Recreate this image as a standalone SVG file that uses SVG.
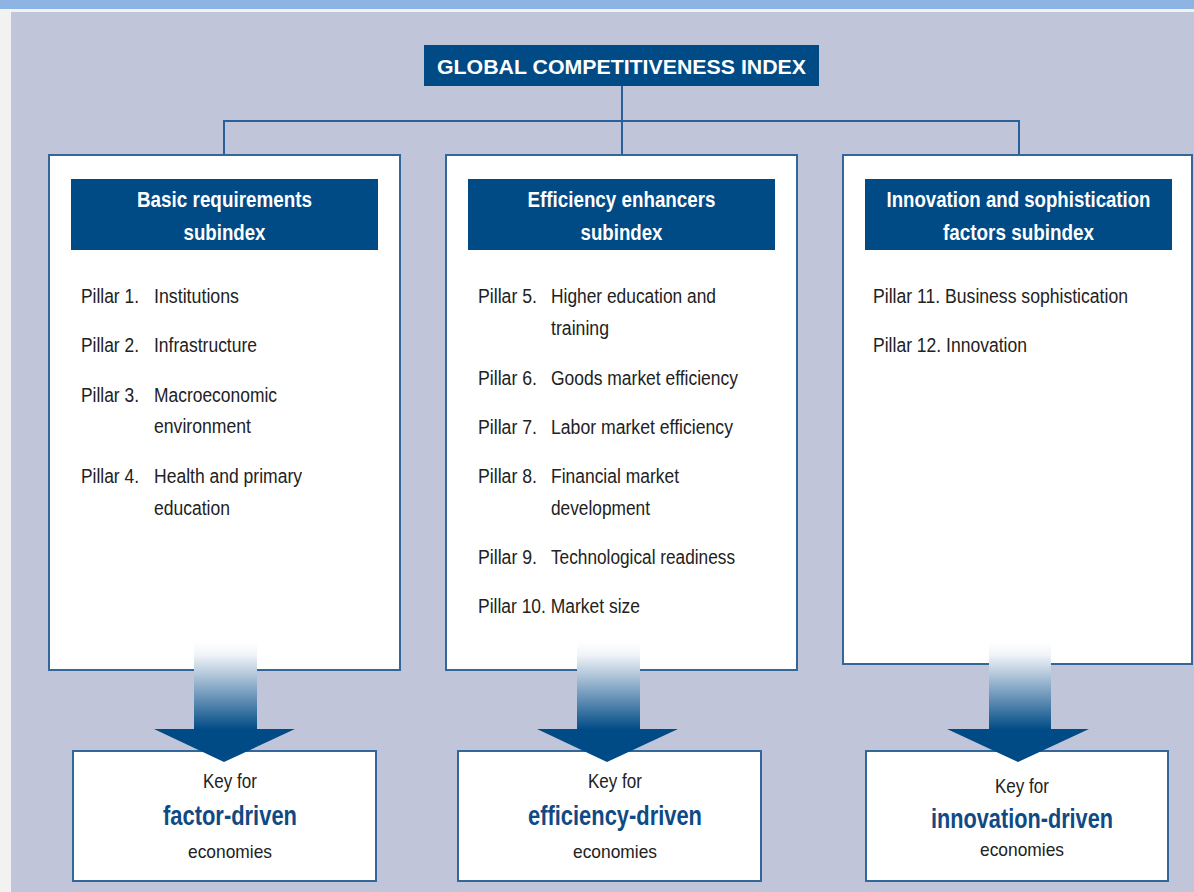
<svg xmlns="http://www.w3.org/2000/svg" width="1194" height="892" viewBox="0 0 1194 892">
  <defs>
    <style>
      text { font-family: "Liberation Sans", Arial, sans-serif; }
      .col { fill: #ffffff; stroke: #336699; stroke-width: 2; }
      .hdr { fill: #004a86; }
      .hdrtxt { font-size: 22.5px; font-weight: bold; fill: #ffffff; text-anchor: middle; }
      .pil { font-size: 20px; fill: #222222; }
      .key { fill: #ffffff; stroke: #336699; stroke-width: 2; }
      .k1 { font-size: 20px; fill: #222222; text-anchor: middle; }
      .k2 { font-size: 27px; font-weight: bold; fill: #0f4a84; text-anchor: middle; }
      .k3 { font-size: 19px; fill: #222222; text-anchor: middle; }
      .link { fill: none; stroke: #2a5f97; stroke-width: 2; }
      .head { fill: #004a86; }
    </style>
    <linearGradient id="shaftFade" x1="0" y1="0" x2="0" y2="1">
      <stop offset="0" stop-color="#ffffff"/>
      <stop offset="0.15" stop-color="#f0f3f8"/>
      <stop offset="1" stop-color="#004a86"/>
    </linearGradient>
  </defs>

  <!-- page frame -->
  <rect x="0" y="0" width="1194" height="892" fill="#f2f2f2"/>
  <rect x="0" y="0" width="1194" height="9" fill="#8eb4e3"/>
  <rect x="11" y="12" width="1183" height="880" fill="#c0c5d9"/>

  <!-- connectors -->
  <g id="connectors">
    <path class="link" d="M622 86 V155"/>
    <path class="link" d="M224 155 V121 H1019 V155"/>
  </g>

  <!-- root -->
  <g id="gci">
    <rect x="424" y="45" width="395" height="41" fill="#004a86"/>
    <text x="621.5" y="73.5" font-size="21" font-weight="bold" fill="#ffffff" text-anchor="middle" textLength="369" lengthAdjust="spacingAndGlyphs">GLOBAL COMPETITIVENESS INDEX</text>
  </g>

  <!-- column 1 -->
  <g id="basic">
    <rect class="col" x="49" y="155" width="351" height="515"/>
    <rect class="hdr" x="71" y="179" width="307" height="71"/>
    <text class="hdrtxt" x="224.5" y="207" textLength="175" lengthAdjust="spacingAndGlyphs">Basic requirements</text>
    <text class="hdrtxt" x="224.5" y="240" textLength="82" lengthAdjust="spacingAndGlyphs">subindex</text>
    <g class="pil">
      <text x="81" y="303" textLength="58" lengthAdjust="spacingAndGlyphs">Pillar 1.</text>
      <text x="154" y="303" textLength="85" lengthAdjust="spacingAndGlyphs">Institutions</text>
      <text x="81" y="352" textLength="58" lengthAdjust="spacingAndGlyphs">Pillar 2.</text>
      <text x="154" y="352" textLength="103" lengthAdjust="spacingAndGlyphs">Infrastructure</text>
      <text x="81" y="402" textLength="58" lengthAdjust="spacingAndGlyphs">Pillar 3.</text>
      <text x="154" y="402" textLength="123" lengthAdjust="spacingAndGlyphs">Macroeconomic</text>
      <text x="154" y="433" textLength="97" lengthAdjust="spacingAndGlyphs">environment</text>
      <text x="81" y="483" textLength="58" lengthAdjust="spacingAndGlyphs">Pillar 4.</text>
      <text x="154" y="483" textLength="148" lengthAdjust="spacingAndGlyphs">Health and primary</text>
      <text x="154" y="515" textLength="76" lengthAdjust="spacingAndGlyphs">education</text>
    </g>
  </g>

  <!-- column 2 -->
  <g id="efficiency">
    <rect class="col" x="446" y="155" width="351" height="515"/>
    <rect class="hdr" x="468" y="179" width="307" height="71"/>
    <text class="hdrtxt" x="621.5" y="207" textLength="188" lengthAdjust="spacingAndGlyphs">Efficiency enhancers</text>
    <text class="hdrtxt" x="621.5" y="240" textLength="82" lengthAdjust="spacingAndGlyphs">subindex</text>
    <g class="pil">
      <text x="478" y="303" textLength="59" lengthAdjust="spacingAndGlyphs">Pillar 5.</text>
      <text x="551" y="303" textLength="165" lengthAdjust="spacingAndGlyphs">Higher education and</text>
      <text x="551" y="335" textLength="58" lengthAdjust="spacingAndGlyphs">training</text>
      <text x="478" y="385" textLength="59" lengthAdjust="spacingAndGlyphs">Pillar 6.</text>
      <text x="551" y="385" textLength="187" lengthAdjust="spacingAndGlyphs">Goods market efficiency</text>
      <text x="478" y="434" textLength="59" lengthAdjust="spacingAndGlyphs">Pillar 7.</text>
      <text x="551" y="434" textLength="182" lengthAdjust="spacingAndGlyphs">Labor market efficiency</text>
      <text x="478" y="483" textLength="59" lengthAdjust="spacingAndGlyphs">Pillar 8.</text>
      <text x="551" y="483" textLength="128" lengthAdjust="spacingAndGlyphs">Financial market</text>
      <text x="551" y="515" textLength="99" lengthAdjust="spacingAndGlyphs">development</text>
      <text x="478" y="564" textLength="59" lengthAdjust="spacingAndGlyphs">Pillar 9.</text>
      <text x="551" y="564" textLength="184" lengthAdjust="spacingAndGlyphs">Technological readiness</text>
      <text x="478" y="613" textLength="162" lengthAdjust="spacingAndGlyphs">Pillar 10. Market size</text>
    </g>
  </g>

  <!-- column 3 -->
  <g id="innovation">
    <rect class="col" x="843" y="155" width="349" height="509"/>
    <rect class="hdr" x="865" y="179" width="307" height="71"/>
    <text class="hdrtxt" transform="translate(1018.5 207) scale(0.825 1)" x="0" y="0" textLength="320" lengthAdjust="spacingAndGlyphs">Innovation and sophistication</text>
    <text class="hdrtxt" x="1018.5" y="240" textLength="151" lengthAdjust="spacingAndGlyphs">factors subindex</text>
    <g class="pil">
      <text x="873" y="303" textLength="255" lengthAdjust="spacingAndGlyphs">Pillar 11. Business sophistication</text>
      <text x="873" y="352" textLength="154" lengthAdjust="spacingAndGlyphs">Pillar 12. Innovation</text>
    </g>
  </g>

  <!-- economy keys -->
  <g id="key-factor">
    <rect class="key" x="73" y="751" width="303" height="130"/>
    <text class="k1" x="230" y="788" textLength="54" lengthAdjust="spacingAndGlyphs">Key for</text>
    <text class="k2" x="230" y="825" textLength="134" lengthAdjust="spacingAndGlyphs">factor-driven</text>
    <text class="k3" x="230" y="858" textLength="84" lengthAdjust="spacingAndGlyphs">economies</text>
  </g>
  <g id="key-efficiency">
    <rect class="key" x="458" y="751" width="303" height="130"/>
    <text class="k1" x="615" y="788" textLength="54" lengthAdjust="spacingAndGlyphs">Key for</text>
    <text class="k2" x="615" y="825" textLength="174" lengthAdjust="spacingAndGlyphs">efficiency-driven</text>
    <text class="k3" x="615" y="858" textLength="84" lengthAdjust="spacingAndGlyphs">economies</text>
  </g>
  <g id="key-innovation">
    <rect class="key" x="866" y="751" width="302" height="130"/>
    <text class="k1" x="1022" y="793" textLength="54" lengthAdjust="spacingAndGlyphs">Key for</text>
    <text class="k2" x="1022" y="828" textLength="182" lengthAdjust="spacingAndGlyphs">innovation-driven</text>
    <text class="k3" x="1022" y="856" textLength="84" lengthAdjust="spacingAndGlyphs">economies</text>
  </g>

  <!-- stage arrows, drawn over the column and key borders -->
  <g id="arrows">
    <rect x="194" y="642" width="63" height="88" fill="url(#shaftFade)"/>
    <polygon class="head" points="154,729 295,729 224,762"/>
    <rect x="577" y="642" width="63" height="88" fill="url(#shaftFade)"/>
    <polygon class="head" points="537,729 678,729 607,762"/>
    <rect x="989" y="642" width="62" height="88" fill="url(#shaftFade)"/>
    <polygon class="head" points="947,729 1089,729 1018,762"/>
  </g>
</svg>
